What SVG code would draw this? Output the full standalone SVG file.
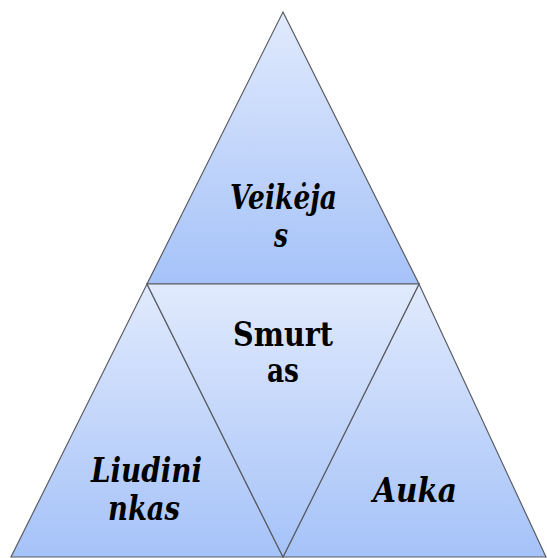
<svg xmlns="http://www.w3.org/2000/svg" width="547" height="558" viewBox="0 0 547 558">
<defs>
<linearGradient id="g" x1="0" y1="0" x2="0" y2="1">
<stop offset="0" stop-color="#e1eafd"/>
<stop offset="1" stop-color="#a5c2f8"/>
</linearGradient>
</defs>
<style>
.tri{fill:url(#g);stroke:#5a5d63;stroke-width:1.2;stroke-linejoin:miter}
.t{font-family:"DejaVu Serif","Liberation Serif",serif;font-size:33px;font-weight:700;fill:#000}
.it{font-style:italic}
</style>
<rect width="547" height="558" fill="#fff"/>
<g id="veikejas">
<polygon class="tri" points="283,12 419,284 147,284"/>
<text class="t it" x="230" y="209" textLength="107" lengthAdjust="spacingAndGlyphs">Veikėja</text>
<text class="t it" x="274" y="247" textLength="14" lengthAdjust="spacingAndGlyphs">s</text>
</g>
<g id="liudininkas">
<polygon class="tri" points="147,284 283,557 11,557"/>
<text class="t it" x="91" y="482" textLength="111" lengthAdjust="spacingAndGlyphs">Liudini</text>
<text class="t it" x="108" y="520" textLength="72" lengthAdjust="spacingAndGlyphs">nkas</text>
</g>
<g id="auka">
<polygon class="tri" points="419,284 546,557 283,557"/>
<text class="t it" x="373" y="502" textLength="84" lengthAdjust="spacingAndGlyphs">Auka</text>
</g>
<g id="smurtas">
<polygon class="tri" points="147,284 419,284 283,557"/>
<text class="t" x="233" y="346" textLength="100" lengthAdjust="spacingAndGlyphs">Smurt</text>
<text class="t" x="267" y="382" textLength="32" lengthAdjust="spacingAndGlyphs">as</text>
</g>
<g id="connectors"></g>
</svg>
